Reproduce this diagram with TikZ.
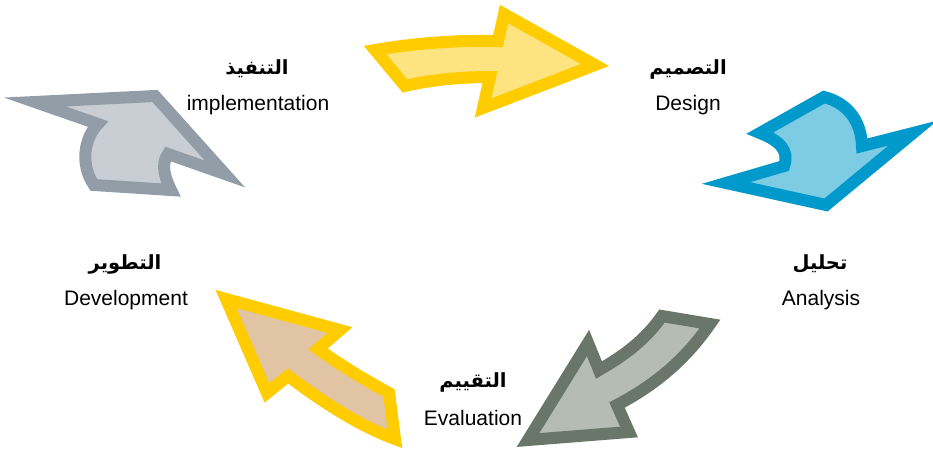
\documentclass[tikz,border=0pt]{standalone}
\usepackage{fontspec}
\setmainfont{Liberation Sans}
\newfontfamily\arabicfont[Script=Arabic]{DejaVu Sans}
\TeXXeTstate=1
\definecolor{ystroke}{RGB}{255,204,0}
\definecolor{yfill}{RGB}{253,228,128}
\definecolor{bstroke}{RGB}{0,153,204}
\definecolor{bfill}{RGB}{126,203,228}
\definecolor{gstroke}{RGB}{107,118,107}
\definecolor{gfill}{RGB}{180,188,180}
\definecolor{tfill}{RGB}{224,196,164}
\definecolor{sstroke}{RGB}{146,157,168}
\definecolor{sfill}{RGB}{200,206,212}
\tikzset{
  bigarrow/.style={line width=12pt, line join=miter, miter limit=20},
  arlabel/.style={inner sep=0pt, font=\arabicfont\bfseries\fontsize{19.5}{22}\selectfont},
  enlabel/.style={inner sep=0pt, font=\fontsize{21}{25}\selectfont},
}
\begin{document}
\begin{tikzpicture}[x=1pt,y=-1pt]
\useasboundingbox (0,0) rectangle (933,450);
% top yellow arrow
\draw[bigarrow, draw=ystroke, fill=yfill]
  (375,50) .. controls (415,43) and (460,40) .. (498,41)
  -- (504,14) -- (595,65) -- (483,108) -- (490,77)
  .. controls (460,77) and (430,80) .. (405,86) -- cycle;
% blue arrow
\draw[bigarrow, draw=bstroke, fill=bfill]
  (760,133) -- (824,97) .. controls (847,103) and (861,120) .. (862,146)
  -- (913,133) -- (826,205) -- (726,183) -- (784,166)
  .. controls (790,150) and (778,140) .. (760,133) -- cycle;
% grey-green arrow
\draw[bigarrow, draw=gstroke, fill=gfill]
  (662,316) -- (710,324) .. controls (685,360) and (655,385) .. (617,405)
  -- (629,432) -- (528,440) -- (588,343) -- (599,370)
  .. controls (625,355) and (645,340) .. (662,316) -- cycle;
% tan arrow
\draw[bigarrow, draw=ystroke, fill=tfill]
  (226,299) -- (340,330) -- (318,349)
  .. controls (342,366) and (365,380) .. (389,393)
  -- (395,439) .. controls (357,425) and (320,400) .. (288,376)
  -- (267,393) -- cycle;
% slate arrow
\draw[bigarrow, draw=sstroke, fill=sfill]
  (35,102) -- (155,96) -- (225,174) -- (168,154)
  .. controls (160,165) and (166,180) .. (171,190)
  -- (94,185) .. controls (80,165) and (84,138) .. (98,124) -- cycle;
% labels
\node[arlabel] (a1) at (257,69) {\beginR التنفيذ\endR};
\node[enlabel] (e1) at (258,105) {implementation};
\node[arlabel] (a2) at (688,69) {\beginR التصميم\endR};
\node[enlabel] (e2) at (688,105) {Design};
\node[arlabel] (a3) at (820,264) {\beginR تحليل\endR};
\node[enlabel] (e3) at (821,300) {Analysis};
\node[arlabel] (a4) at (473,382) {\beginR التقييم\endR};
\node[enlabel] (e4) at (473,418) {Evaluation};
\node[arlabel] (a5) at (125,264) {\beginR التطوير\endR};
\node[enlabel] (e5) at (126,300) {Development};
\end{tikzpicture}
\end{document}
